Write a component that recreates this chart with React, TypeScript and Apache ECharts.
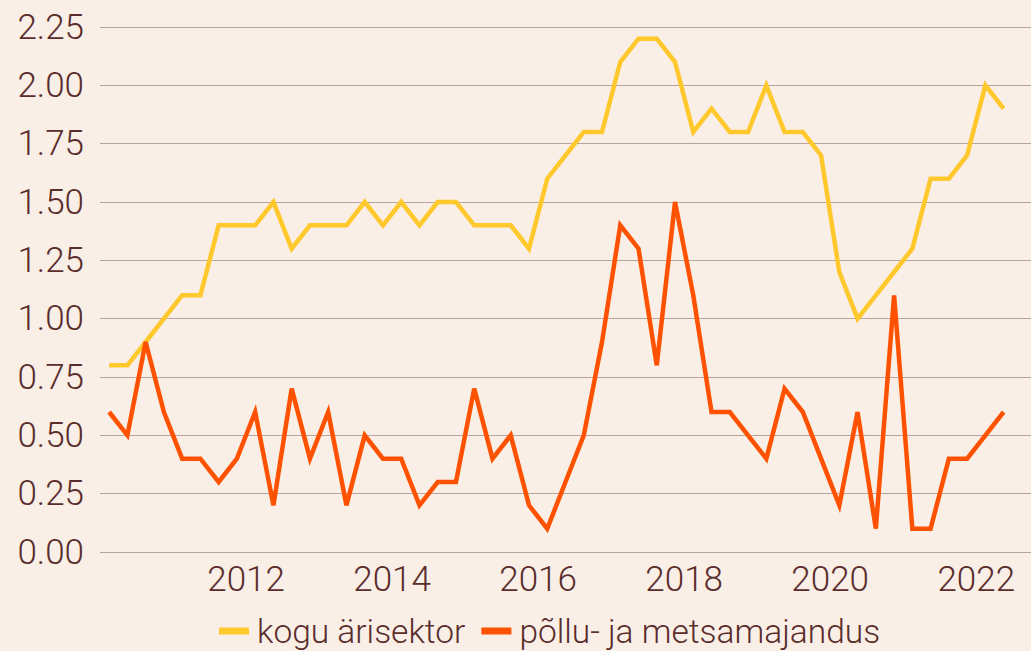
import React, { useEffect, useRef } from "react";
import * as echarts from "echarts";

// Quarters 2010Q1 .. 2022Q2
const startYear = 2010;
const quarterCount = 50;
const quarters: string[] = Array.from({ length: quarterCount }, (_, i) => `${startYear + Math.floor(i / 4)}Q${(i % 4) + 1}`);

const seriesNames = ["kogu ärisektor", "põllu- ja metsamajandus"];

const koguArisektor = [
  0.8, 0.8, 0.9, 1.0, 1.1, 1.1, 1.4, 1.4,
  1.4, 1.5, 1.3, 1.4, 1.4, 1.4, 1.5, 1.4,
  1.5, 1.4, 1.5, 1.5, 1.4, 1.4, 1.4, 1.3,
  1.6, 1.7, 1.8, 1.8, 2.1, 2.2, 2.2, 2.1,
  1.8, 1.9, 1.8, 1.8, 2.0, 1.8, 1.8, 1.7,
  1.2, 1.0, 1.1, 1.2, 1.3, 1.6, 1.6, 1.7,
  2.0, 1.9,
];

const polluMetsa = [
  0.6, 0.5, 0.9, 0.6, 0.4, 0.4, 0.3, 0.4,
  0.6, 0.2, 0.7, 0.4, 0.6, 0.2, 0.5, 0.4,
  0.4, 0.2, 0.3, 0.3, 0.7, 0.4, 0.5, 0.2,
  0.1, 0.3, 0.5, 0.9, 1.4, 1.3, 0.8, 1.5,
  1.1, 0.6, 0.6, 0.5, 0.4, 0.7, 0.6, 0.4,
  0.2, 0.6, 0.1, 1.1, 0.1, 0.1, 0.4, 0.4,
  0.5, 0.6,
];

const yTicks = [0, 0.25, 0.5, 0.75, 1.0, 1.25, 1.5, 1.75, 2.0, 2.25];
const xTickYears = [2012, 2014, 2016, 2018, 2020, 2022];

// Quarter label -> position in decimal years (middle of quarter)
const quarterPos = (q: string) => {
  const y = parseInt(q.slice(0, 4), 10);
  const n = parseInt(q.slice(5), 10);
  return y + (n - 0.5) / 4;
};

const TEXT = "#5a2c2c";
const FONT = "Roboto";

export default function App() {
  const ref = useRef<HTMLDivElement>(null);
  useEffect(() => {
    document.body.style.margin = "0";
    document.body.style.background = "#f9efe6";
    const chart = echarts.init(ref.current!, null, { renderer: "svg" });
    chart.setOption({
      animation: false,
      backgroundColor: "#f9efe6",
      textStyle: { fontFamily: FONT },
      grid: { left: 100, right: -3, top: 27, bottom: 99 },
      legend: {
        bottom: -2,
        left: 214,
        icon: "rect",
        itemWidth: 30,
        itemHeight: 7,
        itemGap: 16,
        textStyle: { color: TEXT, fontSize: 33.5, fontWeight: 300, fontFamily: FONT, padding: [0, 0, 0, 3] },
        data: seriesNames,
      },
      xAxis: {
        type: "value",
        min: 2010,
        max: 2022.75,
        interval: 2,
        axisLine: { show: false },
        axisTick: { show: false },
        splitLine: { show: false },
        axisLabel: {
          color: TEXT,
          fontSize: 35,
          fontWeight: 300,
          fontFamily: FONT,
          margin: 10,
          showMinLabel: false,
          showMaxLabel: false,
          formatter: (v: number) => (xTickYears.includes(v) ? String(v) : ""),
        },
      },
      yAxis: {
        type: "value",
        min: yTicks[0],
        max: yTicks[yTicks.length - 1],
        interval: 0.25,
        axisLine: { show: false },
        axisTick: { show: false },
        splitLine: { lineStyle: { color: "#b9a39d", width: 1 } },
        axisLabel: {
          color: TEXT,
          fontSize: 35,
          fontWeight: 300,
          fontFamily: FONT,
          margin: 16,
          formatter: (v: number) => v.toFixed(2),
        },
      },
      series: [
        {
          name: seriesNames[0],
          type: "line",
          data: quarters.map((q, i) => [quarterPos(q), koguArisektor[i]]),
          showSymbol: false,
          symbol: "none",
          lineStyle: { color: "#ffc82c", width: 4.5, join: "miter" },
          itemStyle: { color: "#ffc82c" },
        },
        {
          name: seriesNames[1],
          type: "line",
          data: quarters.map((q, i) => [quarterPos(q), polluMetsa[i]]),
          showSymbol: false,
          symbol: "none",
          lineStyle: { color: "#ff5200", width: 4.5, join: "miter" },
          itemStyle: { color: "#ff5200" },
        },
      ],
    });
    return () => chart.dispose();
  }, []);
  return <div ref={ref} style={{ width: 1031, height: 651 }} />;
}
